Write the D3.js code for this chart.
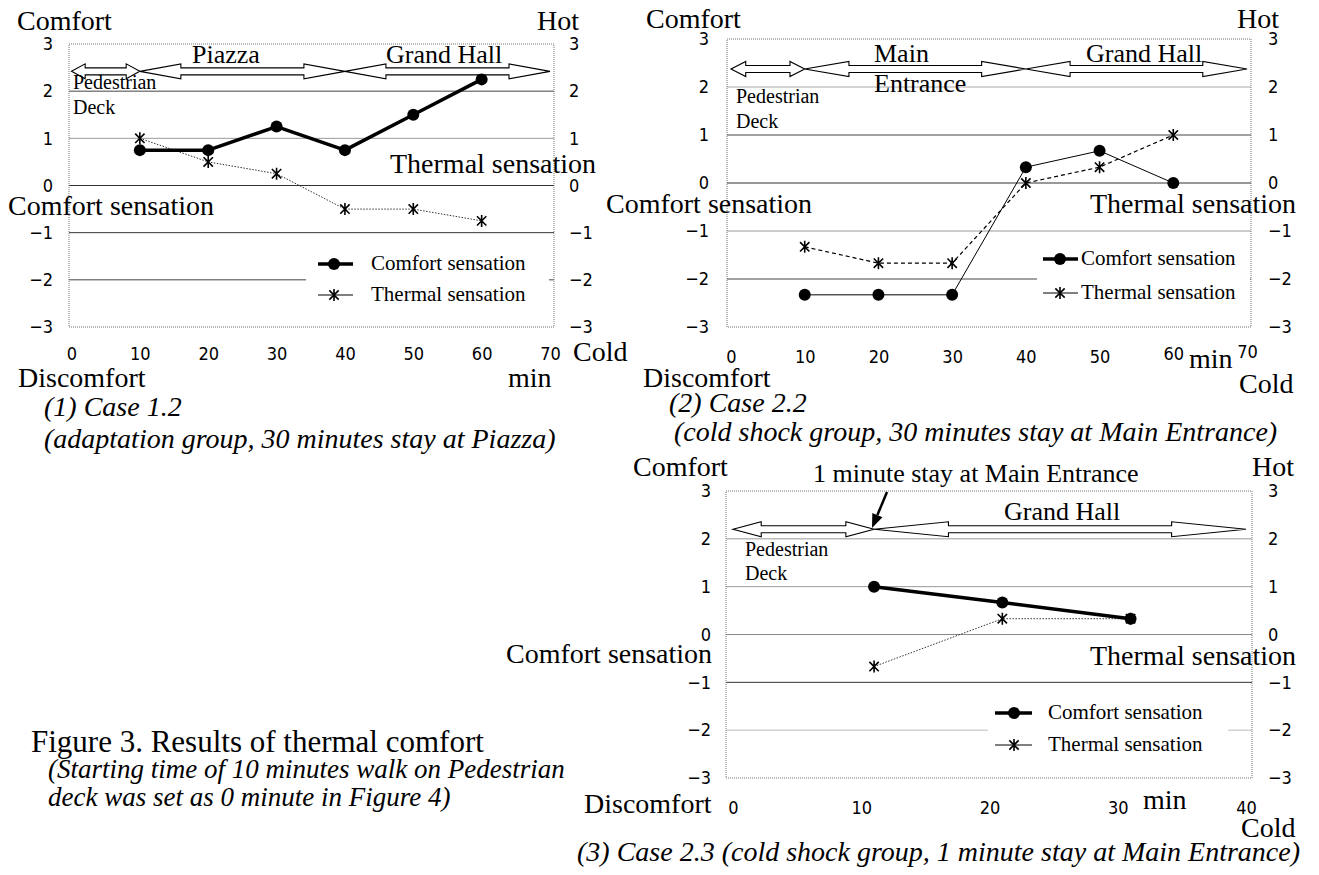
<!DOCTYPE html>
<html><head><meta charset="utf-8">
<script src="https://cdn.jsdelivr.net/npm/d3@7"></script>
<style>
html,body{margin:0;padding:0;background:#fff;}
svg{display:block;}
.tick text{font-family:"Liberation Sans Narrow","DejaVu Sans Condensed","Arial Narrow",sans-serif;font-size:18px;fill:#000;}
</style></head><body>
<svg id="chart" width="1319" height="875"></svg>
<script>
// ---------------- data ----------------
const yTicks = [-3, -2, -1, 0, 1, 2, 3];
const gridValues = [-2, -1, 0, 1, 2];
const legendLabels = ["Comfort sensation", "Thermal sensation"];
const axisNames = ["Comfort", "Hot", "Comfort sensation", "Thermal sensation", "Discomfort", "min", "Cold"];

const case12Minutes = [10, 20, 30, 40, 50, 60];
const case12Comfort = [0.75, 0.75, 1.25, 0.75, 1.5, 2.25];
const case12Thermal = [1.0, 0.5, 0.25, -0.5, -0.5, -0.75];
const case12XTicks = [0, 10, 20, 30, 40, 50, 60, 70];
const case12Zones = [["Pedestrian", "Deck"], ["Piazza"], ["Grand Hall"]];
const case12ZoneBounds = [0, 10, 40, 70];
const case12Caption = ["(1) Case 1.2", "(adaptation group, 30 minutes stay at Piazza)"];

const case22Minutes = [10, 20, 30, 40, 50, 60];
const case22Comfort = [-2.33, -2.33, -2.33, 0.33, 0.67, 0];
const case22Thermal = [-1.33, -1.67, -1.67, 0, 0.33, 1.0];
const case22XTicks = [0, 10, 20, 30, 40, 50, 60, 70];
const case22Zones = [["Pedestrian", "Deck"], ["Main", "Entrance"], ["Grand Hall"]];
const case22ZoneBounds = [0, 10, 40, 70];
const case22Caption = ["(2) Case 2.2", "(cold shock group, 30 minutes stay at Main Entrance)"];

const case23Minutes = [11, 21, 31];
const case23Comfort = [1.0, 0.67, 0.33];
const case23Thermal = [-0.67, 0.33, 0.33];
const case23XTicks = [0, 10, 20, 30, 40];
const case23Zones = [["Pedestrian", "Deck"], ["Grand Hall"]];
const case23ZoneBounds = [0, 11, 40];
const case23Caption = ["(3) Case 2.3 (cold shock group, 1 minute stay at Main Entrance)"];
const case23Pointer = "1 minute stay at Main Entrance";

const figureTitle = "Figure 3. Results of thermal comfort";
const figureNote = ["(Starting time of 10 minutes walk on Pedestrian", "deck was set as 0 minute in Figure 4)"];

// ---------------- layout ----------------
const SERIF = "Liberation Serif, Times New Roman, serif";
const svg = d3.select("#chart");

const panels = [
  {
    minutes: case12Minutes, comfort: case12Comfort, thermal: case12Thermal,
    xTicks: case12XTicks, zones: case12Zones, bounds: case12ZoneBounds,
    xDomain: [0, 70], xRange: [71.5, 550], yTop: 44, yBottom: 327,
    frame: [69, 554], leftPad: 16, rightPad: 15, bottomPad: 20, tickLift: {},
    gridColors: {"2": "#444", "1": "#999", "0": "#333", "-1": "#333", "-2": "#444"},
    arrowY: 2.42,
    zonePos: [{x: 73, y: 89, s: 20, lh: 25}, {x: 192, y: 63, s: 26, lh: 30}, {x: 386, y: 63, s: 26, lh: 30}],
    names: [[17, 30], [537, 30], [8, 215], [390, 173], [18, 387], [508, 387], [573, 361]],
    comfortW: 3.5, thermalW: 1, thermalDash: "1.5,1.5", thermalColor: "#333",
    legend: {box: [306, 549, 245, 312], line: [318, 353], mx: 334, rows: [264, 295], tx: 371, comfortW: 3.5},
    caption: case12Caption, capPos: [[44, 416], [44, 448]], capAnchor: "start"
  },
  {
    minutes: case22Minutes, comfort: case22Comfort, thermal: case22Thermal,
    xTicks: case22XTicks, zones: case22Zones, bounds: case22ZoneBounds,
    xDomain: [0, 70], xRange: [731, 1247], yTop: 39, yBottom: 327,
    frame: [727, 1251], leftPad: 18, rightPad: 17, bottomPad: 23, tickLift: {"60": 3, "70": 5},
    gridColors: {"2": "#aaa", "1": "#444", "0": "#333", "-1": "#999", "-2": "#444"},
    arrowY: 2.375,
    zonePos: [{x: 736, y: 103, s: 20, lh: 25}, {x: 874, y: 62, s: 26, lh: 30}, {x: 1086, y: 62, s: 26, lh: 30}],
    names: [[646, 28], [1237, 28], [606, 213], [1090, 213], [643, 387], [1189, 368], [1239, 393]],
    comfortW: 1, thermalW: 1.2, thermalDash: "4,3", thermalColor: "#000",
    legend: {box: [1037, 1250, 240, 310], line: [1043, 1078], mx: 1060, rows: [259, 293], tx: 1081, comfortW: 3.5},
    caption: case22Caption, capPos: [[669, 412], [674, 441]], capAnchor: "start"
  },
  {
    minutes: case23Minutes, comfort: case23Comfort, thermal: case23Thermal,
    xTicks: case23XTicks, zones: case23Zones, bounds: case23ZoneBounds,
    xDomain: [0, 40], xRange: [733, 1246], yTop: 491, yBottom: 778,
    frame: [726, 1252], leftPad: 15, rightPad: 16, bottomPad: 23, tickLift: {},
    gridColors: {"2": "#999", "1": "#999", "0": "#888", "-1": "#333", "-2": "#bbb"},
    arrowY: 2.2,
    zonePos: [{x: 745, y: 556, s: 20, lh: 24}, {x: 1004, y: 520, s: 26, lh: 30}],
    names: [[633, 476], [1252, 476], [506, 663], [1090, 665], [584, 813], [1143, 809], [1241, 837]],
    comfortW: 3.5, thermalW: 1, thermalDash: "1.5,1.5", thermalColor: "#333",
    legend: {box: [988, 1228, 695, 765], line: [995, 1032], mx: 1014, rows: [713, 745], tx: 1048, comfortW: 3.5},
    caption: case23Caption, capPos: [[1300, 861]], capAnchor: "end",
    pointer: {text: case23Pointer, tx: 813, ty: 482, from: [887, 492], to: [872, 528]}
  }
];

const starSymbol = {
  draw(ctx, size) {
    const r = Math.sqrt(size) / 2, d = r * 0.78;
    ctx.moveTo(0, -r); ctx.lineTo(0, r);
    ctx.moveTo(-d, -d); ctx.lineTo(d, d);
    ctx.moveTo(-d, d); ctx.lineTo(d, -d);
  }
};

function addText(str, x, y, size, opts = {}) {
  return svg.append("text").attr("x", x).attr("y", y)
    .attr("font-family", SERIF).attr("font-size", size)
    .attr("font-style", opts.italic ? "italic" : "normal")
    .attr("text-anchor", opts.anchor || "start")
    .attr("fill", "#000").text(str);
}

function doubleArrow(g, x1, x2, yc) {
  const h = Math.min(0.2 * (x2 - x1), 80), hh = 7.5, sh = 3.5;
  const p = d3.path();
  p.moveTo(x1, yc); p.lineTo(x1 + h, yc - hh); p.lineTo(x1 + h, yc - sh);
  p.lineTo(x2 - h, yc - sh); p.lineTo(x2 - h, yc - hh); p.lineTo(x2, yc);
  p.lineTo(x2 - h, yc + hh); p.lineTo(x2 - h, yc + sh); p.lineTo(x1 + h, yc + sh);
  p.lineTo(x1 + h, yc + hh); p.closePath();
  g.append("path").attr("d", p.toString()).attr("fill", "#fff")
    .attr("stroke", "#000").attr("stroke-width", 1.1).attr("stroke-linejoin", "miter");
}

function drawPanel(p) {
  const g = svg.append("g");
  const x = d3.scaleLinear().domain(p.xDomain).range(p.xRange);
  const y = d3.scaleLinear().domain([-3, 3]).range([p.yBottom, p.yTop]);
  const [fx0, fx1] = p.frame;

  // grid
  g.selectAll(".grid").data(gridValues).join("line")
    .attr("x1", fx0).attr("x2", fx1)
    .attr("y1", d => y(d)).attr("y2", d => y(d))
    .attr("stroke", d => p.gridColors[String(d)]).attr("stroke-width", 1);

  // frame
  g.append("rect").attr("x", fx0).attr("y", p.yTop)
    .attr("width", fx1 - fx0).attr("height", p.yBottom - p.yTop)
    .attr("fill", "none").attr("stroke", "#777").attr("stroke-width", 1)
    .attr("stroke-dasharray", "1,1");

  // axes
  const left = g.append("g").attr("transform", `translate(${fx0},0)`)
    .call(d3.axisLeft(y).tickValues(yTicks).tickSize(0).tickPadding(p.leftPad).tickFormat(d3.format("d")));
  const right = g.append("g").attr("transform", `translate(${fx1},0)`)
    .call(d3.axisRight(y).tickValues(yTicks).tickSize(0).tickPadding(p.rightPad).tickFormat(d3.format("d")));
  const bottom = g.append("g").attr("transform", `translate(0,${p.yBottom})`)
    .call(d3.axisBottom(x).tickValues(p.xTicks).tickSize(0).tickPadding(p.bottomPad).tickFormat(d3.format("d")));
  [left, right, bottom].forEach(a => { a.select(".domain").remove(); a.attr("font-family", null).attr("font-size", null); });
  bottom.selectAll(".tick text").attr("transform", d => `translate(0,${-(p.tickLift[String(d)] || 0)})`);

  // zone arrows
  const ay = y(p.arrowY);
  for (let i = 0; i < p.bounds.length - 1; i++) {
    doubleArrow(g, x(p.bounds[i]), x(p.bounds[i + 1]), ay);
  }
  // zone labels
  p.zones.forEach((lines, i) => {
    const pos = p.zonePos[i];
    lines.forEach((ln, j) => addText(ln, pos.x, pos.y + j * pos.lh, pos.s));
  });

  // legend
  const L = p.legend;
  g.append("rect").attr("x", L.box[0]).attr("y", L.box[2])
    .attr("width", L.box[1] - L.box[0]).attr("height", L.box[3] - L.box[2]).attr("fill", "#fff");
  g.append("line").attr("x1", L.line[0]).attr("x2", L.line[1]).attr("y1", L.rows[0]).attr("y2", L.rows[0])
    .attr("stroke", "#000").attr("stroke-width", L.comfortW);
  g.append("circle").attr("cx", L.mx).attr("cy", L.rows[0]).attr("r", 6).attr("fill", "#000");
  g.append("line").attr("x1", L.line[0]).attr("x2", L.line[1]).attr("y1", L.rows[1]).attr("y2", L.rows[1])
    .attr("stroke", "#000").attr("stroke-width", 1);
  g.append("path").attr("d", d3.symbol(starSymbol, 144)()).attr("transform", `translate(${L.mx},${L.rows[1]})`)
    .attr("stroke", "#000").attr("stroke-width", 1.6).attr("fill", "none");
  legendLabels.forEach((t, i) => addText(t, L.tx, L.rows[i] + 6, 21));

  // series
  const line = d3.line().x(d => x(d[0])).y(d => y(d[1]));
  const thermalPts = d3.zip(p.minutes, p.thermal);
  const comfortPts = d3.zip(p.minutes, p.comfort);
  g.append("path").attr("d", line(thermalPts)).attr("fill", "none")
    .attr("stroke", p.thermalColor).attr("stroke-width", p.thermalW).attr("stroke-dasharray", p.thermalDash);
  g.append("path").attr("d", line(comfortPts)).attr("fill", "none")
    .attr("stroke", "#000").attr("stroke-width", p.comfortW).attr("stroke-linejoin", "round");
  g.selectAll(".cm").data(comfortPts).join("circle")
    .attr("cx", d => x(d[0])).attr("cy", d => y(d[1])).attr("r", 6).attr("fill", "#000");
  g.selectAll(".th").data(thermalPts).join("path")
    .attr("d", d3.symbol(starSymbol, 144)())
    .attr("transform", d => `translate(${x(d[0])},${y(d[1])})`)
    .attr("stroke", "#000").attr("stroke-width", 1.6).attr("fill", "none");

  // axis names
  axisNames.forEach((t, i) => addText(t, p.names[i][0], p.names[i][1], 28));

  // captions
  p.caption.forEach((t, i) => addText(t, p.capPos[i][0], p.capPos[i][1], 28, {italic: true, anchor: p.capAnchor}));

  // pointer annotation
  if (p.pointer) {
    const P = p.pointer;
    addText(P.text, P.tx, P.ty, 26);
    const [x0, y0] = P.from, [x1, y1] = P.to;
    const len = Math.hypot(x1 - x0, y1 - y0), ux = (x1 - x0) / len, uy = (y1 - y0) / len;
    const hl = 14, hw = 5.5;
    const bx = x1 - ux * hl, by = y1 - uy * hl;
    g.append("line").attr("x1", x0).attr("y1", y0).attr("x2", bx).attr("y2", by)
      .attr("stroke", "#000").attr("stroke-width", 2.5);
    g.append("path").attr("d", `M${x1},${y1}L${bx + uy * hw},${by - ux * hw}L${bx - uy * hw},${by + ux * hw}Z`)
      .attr("fill", "#000");
  }
}

panels.forEach(drawPanel);

// figure title and note
addText(figureTitle, 31, 752, 31);
figureNote.forEach((t, i) => addText(t, 48, 778 + i * 28, 27, {italic: true}));
</script>
</body></html>
